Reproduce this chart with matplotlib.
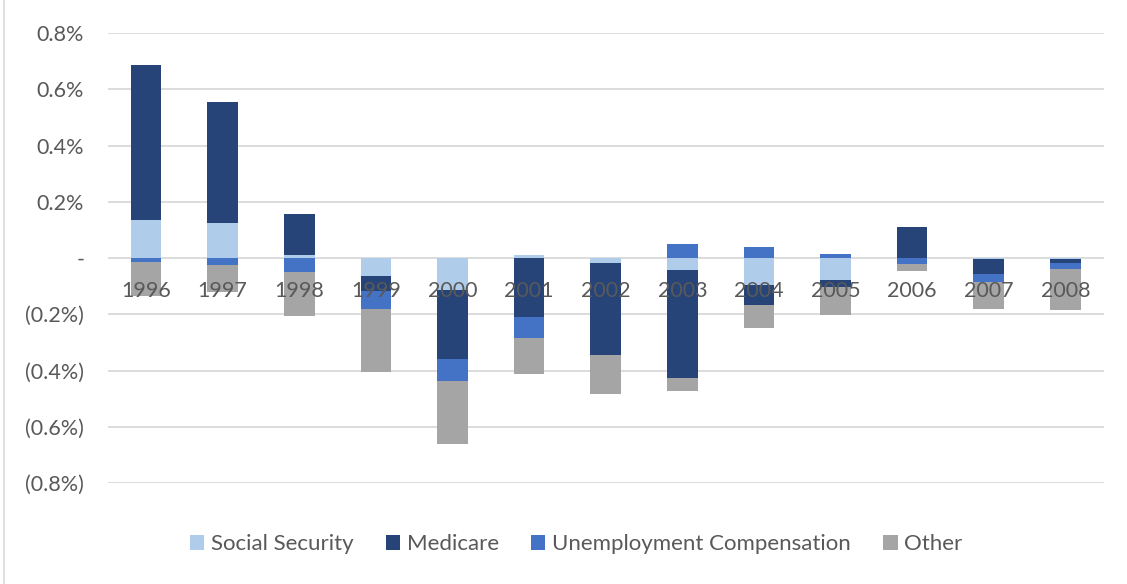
import numpy as np
import matplotlib
matplotlib.use("Agg")
import matplotlib.pyplot as plt
from matplotlib.patches import Rectangle

plt.rcParams['font.family'] = ['Lato', 'DejaVu Sans']

# data (percent)
years = ['1996', '1997', '1998', '1999', '2000', '2001', '2002',
         '2003', '2004', '2005', '2006', '2007', '2008']
social_security = [0.135, 0.125, 0.012, -0.063, -0.114, 0.011, -0.019,
                   -0.041, -0.097, -0.079, 0.0, -0.002, -0.002]
medicare = [0.552, 0.430, 0.145, -0.053, -0.244, -0.208, -0.324,
            -0.387, -0.071, -0.024, 0.112, -0.055, -0.014]
unemployment = [-0.012, -0.023, -0.048, -0.065, -0.078, -0.075, 0.0,
                0.051, 0.039, 0.013, -0.020, -0.027, -0.024]
other = [-0.121, -0.096, -0.157, -0.225, -0.225, -0.130, -0.141,
         -0.046, -0.081, -0.101, -0.026, -0.097, -0.144]

series = [('Social Security', social_security, '#AFCDEA'),
          ('Medicare', medicare, '#264478'),
          ('Unemployment Compensation', unemployment, '#4472C4'),
          ('Other', other, '#A5A5A5')]

text_color = '#595959'
grid_color = '#D9D9D9'
fs = 15.5

fig = plt.figure(figsize=(11.27, 5.84), dpi=100)
ax = fig.add_axes([0.0956, 0.173, 0.8837, 0.770])

# chart area border
fig.patches.append(Rectangle((4 / 1127, -0.01), 1.02, 1.02, transform=fig.transFigure,
                             fill=False, edgecolor='#D9D9D9', linewidth=1.2))

x = np.arange(len(years))
pos_bottom = np.zeros(len(years))
neg_bottom = np.zeros(len(years))
for name, vals, color in series:
    vals = np.array(vals)
    bottom = np.where(vals >= 0, pos_bottom, neg_bottom)
    ax.bar(x, vals, width=0.4, bottom=bottom, color=color, label=name, zorder=3)
    pos_bottom += np.where(vals >= 0, vals, 0)
    neg_bottom += np.where(vals < 0, vals, 0)

ax.set_xlim(-0.5, len(years) - 0.5)
ax.set_ylim(-0.8, 0.8)

yticks = [0.8, 0.6, 0.4, 0.2, 0.0, -0.2, -0.4, -0.6, -0.8]
ylabels = []
for v in yticks:
    if v > 0:
        ylabels.append(f'{v:.1f}%')
    elif v < 0:
        ylabels.append(f'({-v:.1f}%)')
    else:
        ylabels.append('-')
ax.set_yticks(yticks)
ax.set_yticklabels(ylabels)
ax.tick_params(axis='y', length=0, pad=17, labelsize=fs, labelcolor=text_color)
ax.set_xticks([])
ax.grid(axis='y', color=grid_color, linewidth=1.3, zorder=0)
for s in ax.spines.values():
    s.set_visible(False)

# category labels sit just below the zero line, drawn over the bars
for i, yr in enumerate(years):
    ax.annotate(yr, (i, 0), xytext=(0, -23.5), textcoords='offset points',
                ha='center', va='center', fontsize=fs, color=text_color, zorder=6)

fig.legend(loc='center', bbox_to_anchor=(576 / 1127, 1 - 544 / 584), ncol=4,
           frameon=False, fontsize=16, labelcolor=text_color,
           handlelength=0.65, handleheight=0.65, handletextpad=0.3,
           columnspacing=1.45)

fig.savefig('out.png', dpi=100)
